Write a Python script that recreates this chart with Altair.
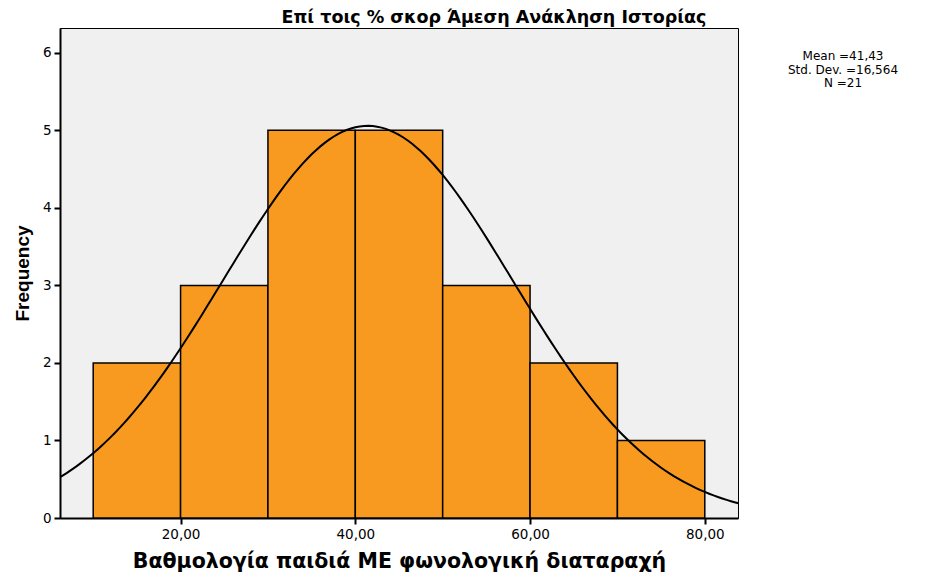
import altair as alt
import pandas as pd

bin_start = [10, 20, 30, 40, 50, 60, 70]
bin_end = [20, 30, 40, 50, 60, 70, 80]
counts = [2, 3, 5, 5, 3, 2, 1]

mean_val = 41.43
sd_val = 16.564
n_val = 21
bin_width = 10

x_ticks = [20, 40, 60, 80]
y_ticks = [0, 1, 2, 3, 4, 5, 6]
stats_lines = ["Mean =41,43", "Std. Dev. =16,564", "N =21"]

title_text = "Επί τοις % σκορ Άμεση Ανάκληση Ιστορίας"
x_title = "Βαθμολογία παιδιά ΜΕ φωνολογική διαταραχή"
y_title = "Frequency"

XDOM = [6.2, 83.8]
YDOM = [0, 6.32]
FONT = "DejaVu Sans"

bars_df = pd.DataFrame({"start": bin_start, "end": bin_end, "count": counts})

xscale = alt.Scale(domain=XDOM, nice=False, zero=False)
yscale = alt.Scale(domain=YDOM, nice=False)

xaxis = alt.Axis(
    values=x_ticks,
    labelExpr="replace(format(datum.value, '.2f'), '.', ',')",
    title=x_title, titleFont=FONT, titleFontSize=20.5, titleFontWeight="bold",
    titlePadding=11, titleColor="black",
    labelFont=FONT, labelFontSize=13.5, labelColor="black", labelPadding=3,
    tickColor="black", tickWidth=2, tickSize=6,
    domainColor="black", domainWidth=2, grid=False,
)
yaxis = alt.Axis(
    values=y_ticks, format="d",
    title=y_title, titleFont="Liberation Sans", titleFontSize=19, titleFontWeight="bold",
    titlePadding=10, titleColor="black",
    labelFont=FONT, labelFontSize=13.5, labelColor="black", labelPadding=3,
    tickColor="black", tickWidth=2, tickSize=6,
    domainColor="black", domainWidth=2, grid=False,
)

bars = alt.Chart(bars_df).mark_rect(
    fill="#F89A1F", stroke="black", strokeWidth=1.5
).encode(
    x=alt.X("start:Q", scale=xscale, axis=xaxis),
    x2="end:Q",
    y=alt.Y("count:Q", scale=yscale, axis=yaxis),
    y2=alt.datum(0),
)

curve = alt.Chart(alt.sequence(0, 90.5, 0.5, as_="xv")).transform_calculate(
    dens=f"{n_val}*{bin_width}/({sd_val}*sqrt(2*PI))*exp(-0.5*pow((datum.xv-{mean_val})/{sd_val},2))"
).mark_line(color="black", strokeWidth=2, clip=True).encode(
    x=alt.X("xv:Q", scale=xscale),
    y=alt.Y("dens:Q", scale=yscale),
)

stats = alt.Chart(pd.DataFrame({"t": ["\n".join(stats_lines)]})).mark_text(
    font=FONT, fontSize=12, color="black", align="center", baseline="top",
    lineBreak="\n", lineHeight=13.5,
).encode(
    text="t:N",
    x=alt.value(783),
    y=alt.value(23),
)

title = alt.Chart(pd.DataFrame({"t": [title_text]})).mark_text(
    font=FONT, fontSize=17.5, fontWeight="bold", color="black",
    align="center", baseline="alphabetic",
).encode(
    text="t:N",
    x=alt.value(434),
    y=alt.value(-5),
)

chart = alt.layer(bars, curve, stats, title).properties(
    width=678, height=490,
    autosize=alt.AutoSizeParams(type="none"),
    padding={"left": 52, "top": 20, "right": 185, "bottom": 60},
    background="white",
).configure_view(fill="#F0F0F0", stroke="black", strokeWidth=1)

chart.save("out.html", embed_options={"renderer": "svg", "actions": False})
